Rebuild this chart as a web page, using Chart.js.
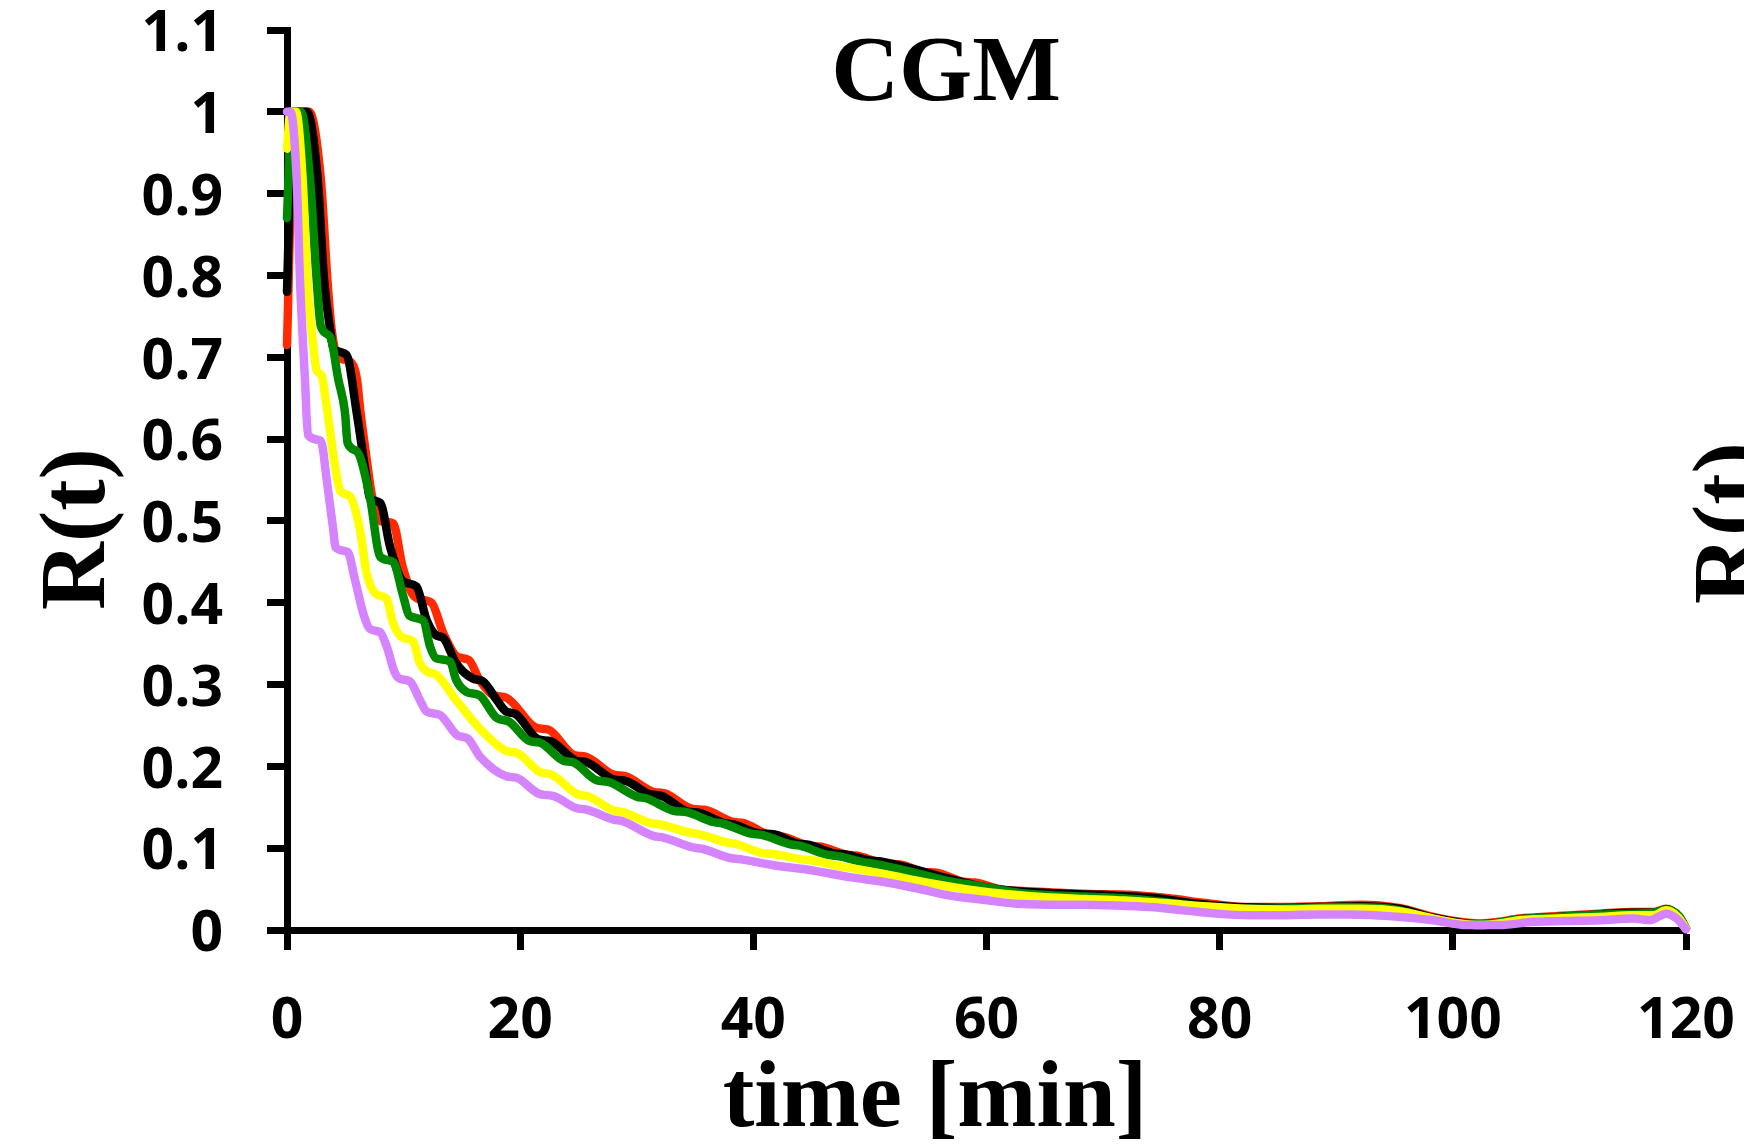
<!DOCTYPE html>
<html>
<head>
<meta charset="utf-8">
<script src="https://cdn.jsdelivr.net/npm/chart.js@4.4.1/dist/chart.umd.min.js"></script>
<style>
  html, body { margin: 0; padding: 0; background: #fff; }
  #grafico { display: block; }
</style>
</head>
<body>
<canvas id="grafico" width="1744" height="1147"></canvas>
<script>
// tempi [min] e valori R(t), una coppia di array per curva

var redT = [0, 0.6, 1.9, 2.9, 3.46, 3.83, 4.4, 5.4, 6.0, 6.3, 6.7, 7.3, 8.0, 9.1, 9.9, 10.7, 11.4, 12.4, 13.4, 14.6, 15.6, 16.5, 17.7, 18.8, 21.4, 22.4, 24.6, 25.6, 28.0, 29.0, 31.4, 32.4, 34.8, 35.8, 38.3, 39.1, 41.4, 42.3, 44.8, 45.7, 48.0, 48.8, 51.4, 52.6, 54.6, 55.7, 58.0, 59.0, 61.4, 62.6, 65.4, 68.8, 72.2, 75.4, 78.8, 82.0, 85.4, 88.8, 92.0, 95.4, 98.3, 100.6, 102.3, 104.0, 105.7, 109.0, 112.6, 115.5, 117.2, 118.3, 119.4, 120];
var redR = [0.715, 1.0, 1.0, 0.918, 0.796, 0.734, 0.700, 0.695, 0.673, 0.633, 0.590, 0.530, 0.500, 0.497, 0.445, 0.412, 0.404, 0.400, 0.363, 0.334, 0.330, 0.306, 0.287, 0.284, 0.247, 0.245, 0.214, 0.212, 0.190, 0.188, 0.169, 0.167, 0.148, 0.147, 0.132, 0.131, 0.116, 0.115, 0.103, 0.102, 0.092, 0.091, 0.081, 0.080, 0.071, 0.070, 0.059, 0.058, 0.049, 0.048, 0.046, 0.044, 0.043, 0.039, 0.033, 0.028, 0.028, 0.029, 0.031, 0.027, 0.016, 0.010, 0.008, 0.010, 0.014, 0.017, 0.020, 0.022, 0.022, 0.026, 0.016, 0.002];

var blackT = [0, 0.5, 1.7, 2.63, 3.17, 3.7, 4.0, 5.1, 5.97, 6.83, 7.1, 8.0, 8.83, 9.97, 11.1, 11.97, 12.8, 13.4, 14.5, 16.0, 16.8, 18.0, 18.8, 19.6, 21.55, 22.55, 24.8, 25.7, 28.0, 29.1, 31.1, 32.1, 34.3, 35.4, 37.4, 38.3, 40.55, 41.7, 43.7, 44.8, 46.8, 48.0, 50.0, 50.8, 53.6, 57.0, 60.4, 64.0, 67.4, 71.0, 74.4, 78.0, 81.4, 85.0, 88.4, 92.0, 95.4, 98.3, 100.6, 102.3, 104.0, 105.7, 109.0, 112.6, 115.5, 117.2, 118.3, 119.4, 120];
var blackR = [0.78, 1.0, 1.0, 0.918, 0.796, 0.734, 0.710, 0.703, 0.633, 0.551, 0.528, 0.522, 0.469, 0.426, 0.420, 0.379, 0.360, 0.357, 0.326, 0.307, 0.304, 0.281, 0.267, 0.264, 0.233, 0.231, 0.207, 0.205, 0.184, 0.182, 0.166, 0.164, 0.145, 0.143, 0.131, 0.129, 0.118, 0.117, 0.106, 0.104, 0.094, 0.092, 0.085, 0.084, 0.075, 0.062, 0.051, 0.046, 0.044, 0.042, 0.039, 0.032, 0.028, 0.027, 0.028, 0.029, 0.026, 0.015, 0.009, 0.007, 0.009, 0.013, 0.016, 0.019, 0.021, 0.021, 0.025, 0.016, 0.002];

var greenT = [0, 0.4, 1.2, 1.97, 2.54, 2.9, 3.7, 4.4, 4.97, 5.2, 6.0, 7.1, 8.0, 9.1, 9.97, 10.5, 11.7, 12.26, 12.8, 14.0, 14.5, 15.4, 16.5, 18.0, 19.0, 20.8, 21.7, 23.7, 24.55, 26.55, 27.55, 30.0, 30.8, 33.1, 34.3, 36.55, 37.4, 39.7, 40.8, 43.1, 44.0, 46.3, 47.4, 49.4, 50.3, 53.0, 56.4, 59.7, 63.0, 66.6, 70.0, 73.4, 77.0, 80.4, 84.0, 87.4, 91.0, 94.6, 98.0, 100.6, 102.3, 104.0, 105.7, 109.0, 112.6, 115.5, 117.2, 118.3, 119.4, 120];
var greenR = [0.87, 1.0, 1.0, 0.918, 0.796, 0.738, 0.725, 0.673, 0.633, 0.595, 0.585, 0.530, 0.456, 0.450, 0.408, 0.384, 0.378, 0.347, 0.332, 0.328, 0.306, 0.291, 0.287, 0.259, 0.255, 0.231, 0.229, 0.207, 0.205, 0.183, 0.181, 0.163, 0.161, 0.146, 0.144, 0.132, 0.130, 0.118, 0.116, 0.105, 0.103, 0.092, 0.090, 0.083, 0.081, 0.073, 0.061, 0.053, 0.045, 0.042, 0.040, 0.037, 0.031, 0.027, 0.026, 0.027, 0.028, 0.026, 0.015, 0.008, 0.007, 0.009, 0.013, 0.016, 0.019, 0.020, 0.021, 0.025, 0.017, 0.002];

var yellowT = [0, 0.3, 0.77, 1.34, 1.74, 2.26, 2.54, 2.97, 3.3, 4.26, 4.6, 5.4, 6.26, 6.83, 7.7, 8.54, 9.1, 9.97, 10.8, 11.4, 12.0, 12.8, 14.5, 15.4, 16.55, 18.8, 19.8, 21.7, 22.7, 24.9, 25.9, 28.0, 28.8, 31.1, 32.0, 34.55, 35.4, 37.7, 38.55, 40.8, 41.7, 44.3, 45.1, 47.4, 48.3, 51.4, 54.8, 58.2, 61.6, 65.0, 68.4, 71.8, 75.2, 78.6, 82.0, 85.4, 88.8, 92.2, 95.4, 98.3, 100.6, 102.3, 104.0, 105.7, 109.0, 112.6, 115.5, 117.2, 118.3, 119.3, 120];
var yellowR = [0.955, 1.0, 1.0, 0.918, 0.796, 0.714, 0.684, 0.678, 0.650, 0.555, 0.536, 0.530, 0.489, 0.436, 0.410, 0.405, 0.375, 0.357, 0.353, 0.326, 0.316, 0.312, 0.281, 0.265, 0.246, 0.219, 0.216, 0.193, 0.190, 0.166, 0.163, 0.146, 0.144, 0.131, 0.129, 0.119, 0.117, 0.107, 0.105, 0.094, 0.093, 0.086, 0.085, 0.078, 0.076, 0.068, 0.058, 0.050, 0.044, 0.040, 0.038, 0.036, 0.033, 0.029, 0.026, 0.025, 0.026, 0.026, 0.023, 0.014, 0.008, 0.006, 0.008, 0.012, 0.014, 0.016, 0.018, 0.018, 0.024, 0.016, 0.002];

var violetT = [0, 0.3, 0.83, 1.11, 1.54, 1.8, 2.9, 3.4, 3.97, 4.15, 5.2, 5.83, 6.54, 7.1, 7.97, 8.54, 9.26, 9.69, 10.54, 11.4, 11.97, 13.1, 14.6, 15.5, 16.55, 18.8, 19.7, 21.7, 22.8, 24.8, 25.7, 28.0, 28.8, 31.4, 32.3, 34.8, 35.7, 38.0, 39.1, 41.4, 42.3, 44.55, 45.4, 47.7, 48.55, 51.1, 54.0, 56.9, 59.7, 62.6, 65.4, 68.3, 71.1, 74.0, 76.9, 79.7, 82.6, 85.4, 88.3, 91.1, 95.5, 98.3, 101.2, 104.0, 106.9, 109.7, 112.6, 115.5, 116.9, 118.3, 119.2, 120];
var violetR = [1.0, 1.0, 0.918, 0.796, 0.673, 0.605, 0.598, 0.551, 0.489, 0.468, 0.462, 0.428, 0.387, 0.368, 0.364, 0.347, 0.314, 0.307, 0.304, 0.281, 0.267, 0.263, 0.238, 0.234, 0.212, 0.188, 0.186, 0.166, 0.164, 0.149, 0.147, 0.135, 0.133, 0.115, 0.113, 0.101, 0.099, 0.088, 0.086, 0.080, 0.078, 0.074, 0.072, 0.066, 0.064, 0.059, 0.051, 0.042, 0.037, 0.032, 0.031, 0.031, 0.030, 0.028, 0.024, 0.020, 0.018, 0.018, 0.019, 0.019, 0.016, 0.012, 0.006, 0.006, 0.010, 0.011, 0.012, 0.014, 0.012, 0.020, 0.014, 0.001];

var xTicks = [0, 20, 40, 60, 80, 100, 120];
var yTicks = [0, 0.1, 0.2, 0.3, 0.4, 0.5, 0.6, 0.7, 0.8, 0.9, 1, 1.1];

var titolo = 'CGM';
var titoloX = 'time [min]';
var titoloY = 'R(t)';

function punti(tempi, valori) {
  var lista = [];
  for (var i = 0; i < tempi.length; i++) {
    lista.push({ x: tempi[i], y: valori[i] });
  }
  return lista;
}

function serie(tempi, valori, colore) {
  return {
    data: punti(tempi, valori),
    borderColor: colore,
    borderWidth: 8.5,
    borderCapStyle: 'round',
    borderJoinStyle: 'round',
    cubicInterpolationMode: 'monotone',
    pointRadius: 0,
    fill: false,
    clip: false
  };
}

// scritte disegnate a mano: titolo, titoli degli assi
var scritte = {
  id: 'scritte',
  afterDraw: function(chart) {
    var ctx = chart.ctx;
    ctx.save();
    ctx.fillStyle = '#000';
    ctx.textAlign = 'center';
    ctx.textBaseline = 'alphabetic';

    ctx.font = 'bold 94px "Liberation Serif"';
    ctx.fillText(titolo, 946, 100);

    ctx.font = 'bold 95px "Liberation Serif"';
    ctx.fillText(titoloX, 935, 1126);

    ctx.font = 'bold 94px "Liberation Serif"';
    ctx.save();
    ctx.translate(104, 529);
    ctx.rotate(-Math.PI / 2);
    ctx.fillText(titoloY, 0, 0);
    ctx.restore();

    // il grafico accanto, tagliato dal bordo
    ctx.save();
    ctx.translate(1757, 523);
    ctx.rotate(-Math.PI / 2);
    ctx.fillText(titoloY, 0, 0);
    ctx.restore();

    ctx.restore();
  }
};

var fontTick = { family: '"Open Sans"', weight: 'bold', size: 57, lineHeight: 1 };

new Chart(document.getElementById('grafico'), {
  type: 'line',
  data: {
    datasets: [
      serie(violetT, violetR, '#d683ff'),
      serie(yellowT, yellowR, '#ffff00'),
      serie(greenT, greenR, '#008800'),
      serie(blackT, blackR, '#000000'),
      serie(redT, redR, '#ff2a00')
    ]
  },
  options: {
    responsive: false,
    animation: false,
    events: [],
    layout: { padding: { top: 30, right: 58, bottom: 0, left: 0 } },
    plugins: {
      legend: { display: false },
      tooltip: { enabled: false },
      title: { display: false }
    },
    scales: {
      x: {
        type: 'linear',
        min: xTicks[0],
        max: xTicks[xTicks.length - 1],
        afterBuildTicks: function(scale) {
          scale.ticks = xTicks.map(function(v) { return { value: v }; });
        },
        afterFit: function(scale) {
          scale.height = 217;
          scale.paddingLeft = 0;
          scale.paddingRight = 0;
        },
        ticks: {
          color: '#000',
          font: fontTick,
          padding: 43,
          maxRotation: 0,
          autoSkip: false
        },
        grid: {
          drawOnChartArea: false,
          drawTicks: true,
          tickLength: 20,
          tickWidth: 7,
          tickColor: '#000'
        },
        border: { display: true, color: '#000', width: 7 }
      },
      y: {
        type: 'linear',
        min: yTicks[0],
        max: yTicks[yTicks.length - 1],
        afterBuildTicks: function(scale) {
          scale.ticks = yTicks.map(function(v) { return { value: v }; });
        },
        afterFit: function(scale) {
          scale.width = 287;
          scale.paddingTop = 0;
          scale.paddingBottom = 0;
        },
        ticks: {
          color: '#000',
          font: fontTick,
          padding: 44,
          labelOffset: 5,
          autoSkip: false,
          callback: function(v) { return String(Math.round(v * 10) / 10); }
        },
        grid: {
          drawOnChartArea: false,
          drawTicks: true,
          tickLength: 20,
          tickWidth: 7,
          tickColor: '#000'
        },
        border: { display: true, color: '#000', width: 7 }
      }
    }
  },
  plugins: [scritte]
});
</script>
</body>
</html>
